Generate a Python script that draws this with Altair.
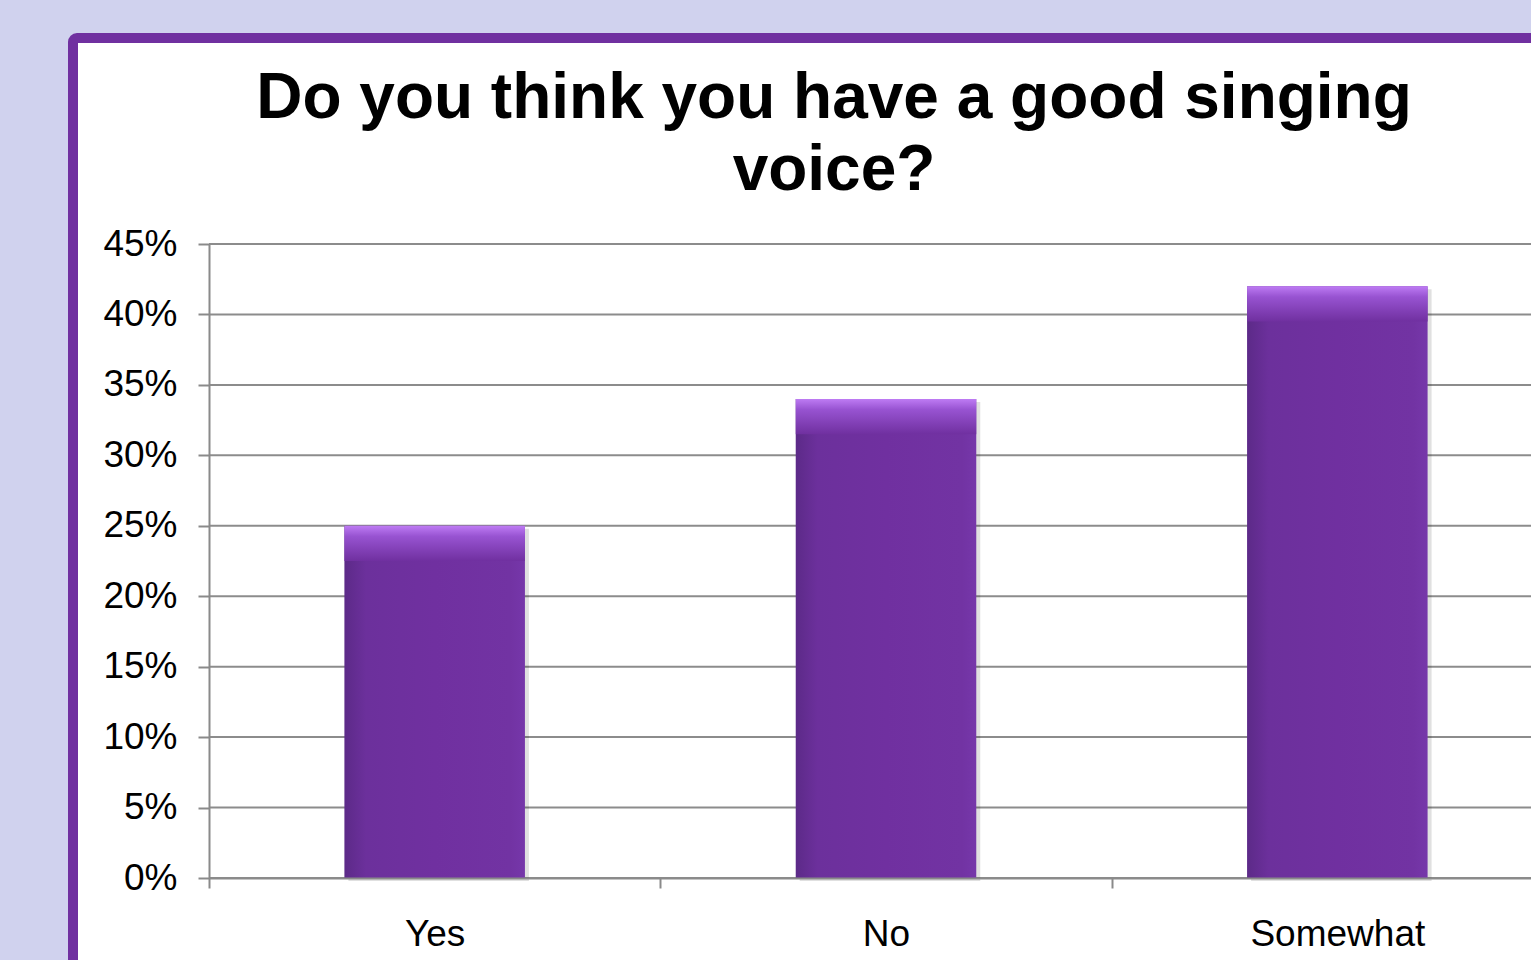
import altair as alt
import pandas as pd

categories = ["Yes", "No", "Somewhat"]
values = [0.25, 0.34, 0.42]
y_ticks = [0, 0.05, 0.10, 0.15, 0.20, 0.25, 0.30, 0.35, 0.40, 0.45]
title_lines = ["Do you think you have a good singing", "voice?"]

df = pd.DataFrame({"answer": categories, "share": values})
grid_df = pd.DataFrame({"tick": y_ticks})
one = pd.DataFrame({"k": [0]})

FONT = "Liberation Sans"
W, H = 1322, 634

xscale = alt.Scale(domain=categories, range=[0, 1354], paddingInner=0, paddingOuter=0)
yscale = alt.Scale(domain=[0, 0.45], nice=False)

x_enc = alt.X("answer:N", scale=xscale, sort=categories, title=None,
              axis=alt.Axis(labelAngle=0, labelFontSize=37, labelFont=FONT, labelColor="#000000",
                            tickBand="extent", tickSize=10, tickWidth=2, tickColor="#8a8a8a",
                            domainColor="#8a8a8a", domainWidth=2, labelPadding=28, zindex=1, grid=False))
y_enc = alt.Y("share:Q", scale=yscale, title=None,
              axis=alt.Axis(values=y_ticks, format=".0%", labelFontSize=37, labelFont=FONT,
                            labelColor="#000000", tickSize=11, tickWidth=2, tickColor="#8a8a8a",
                            domainColor="#8a8a8a", domainWidth=2, labelPadding=21, zindex=1, grid=False))

panel = alt.Chart(one).mark_rect(fill="white", stroke="#7030a0", strokeWidth=10, cornerRadius=4).encode(
    x=alt.value(-136), x2=alt.value(1360), y=alt.value(-206), y2=alt.value(740)
)

grid = alt.Chart(grid_df).mark_rule(color="#8c8c8c", strokeWidth=2).encode(
    y=alt.Y("tick:Q", scale=yscale), x=alt.value(0), x2=alt.value(W + 10)
)

shadow = alt.Chart(df).mark_bar(color="#000000", opacity=0.12, xOffset=4, yOffset=3,
                                width=alt.RelativeBandSize(0.4)).encode(x=x_enc, y=y_enc)

body_grad = alt.Gradient(
    gradient="linear", x1=0, x2=1, y1=0, y2=0,
    stops=[alt.GradientStop(offset=0, color="#5c2a88"),
           alt.GradientStop(offset=0.12, color="#6c309c"),
           alt.GradientStop(offset=0.5, color="#7030a0"),
           alt.GradientStop(offset=0.92, color="#7233a3"),
           alt.GradientStop(offset=1, color="#7637aa")])

bars = alt.Chart(df).mark_bar(color=body_grad, width=alt.RelativeBandSize(0.4)).encode(x=x_enc, y=y_enc)

top_grad = alt.Gradient(
    gradient="linear", x1=0, x2=0, y1=0, y2=1,
    stops=[alt.GradientStop(offset=0, color="#c27ff8"),
           alt.GradientStop(offset=0.3, color="#9a55d4"),
           alt.GradientStop(offset=1, color="#7030a0", )])

bevel = alt.Chart(df).transform_calculate(low="datum.share - 0.025").mark_bar(
    color=top_grad, width=alt.RelativeBandSize(0.4), opacity=0.95
).encode(x=x_enc, y=y_enc, y2="low:Q")

title = alt.Chart(one).mark_text(
    text=title_lines, font=FONT, fontSize=64, fontWeight="bold", color="#000000",
    align="center", baseline="alphabetic", lineHeight=72
).encode(x=alt.value(625), y=alt.value(-126))

chart = alt.layer(panel, grid, shadow, bars, bevel, title).properties(
    width=W, height=H,
    autosize=alt.AutoSizeParams(type="none"),
    padding={"left": 209, "top": 244, "right": 0, "bottom": 82},
    background="#d0d2ee",
).configure_view(stroke=None)

chart.save("out.html", embed_options={"renderer": "svg", "actions": False})
